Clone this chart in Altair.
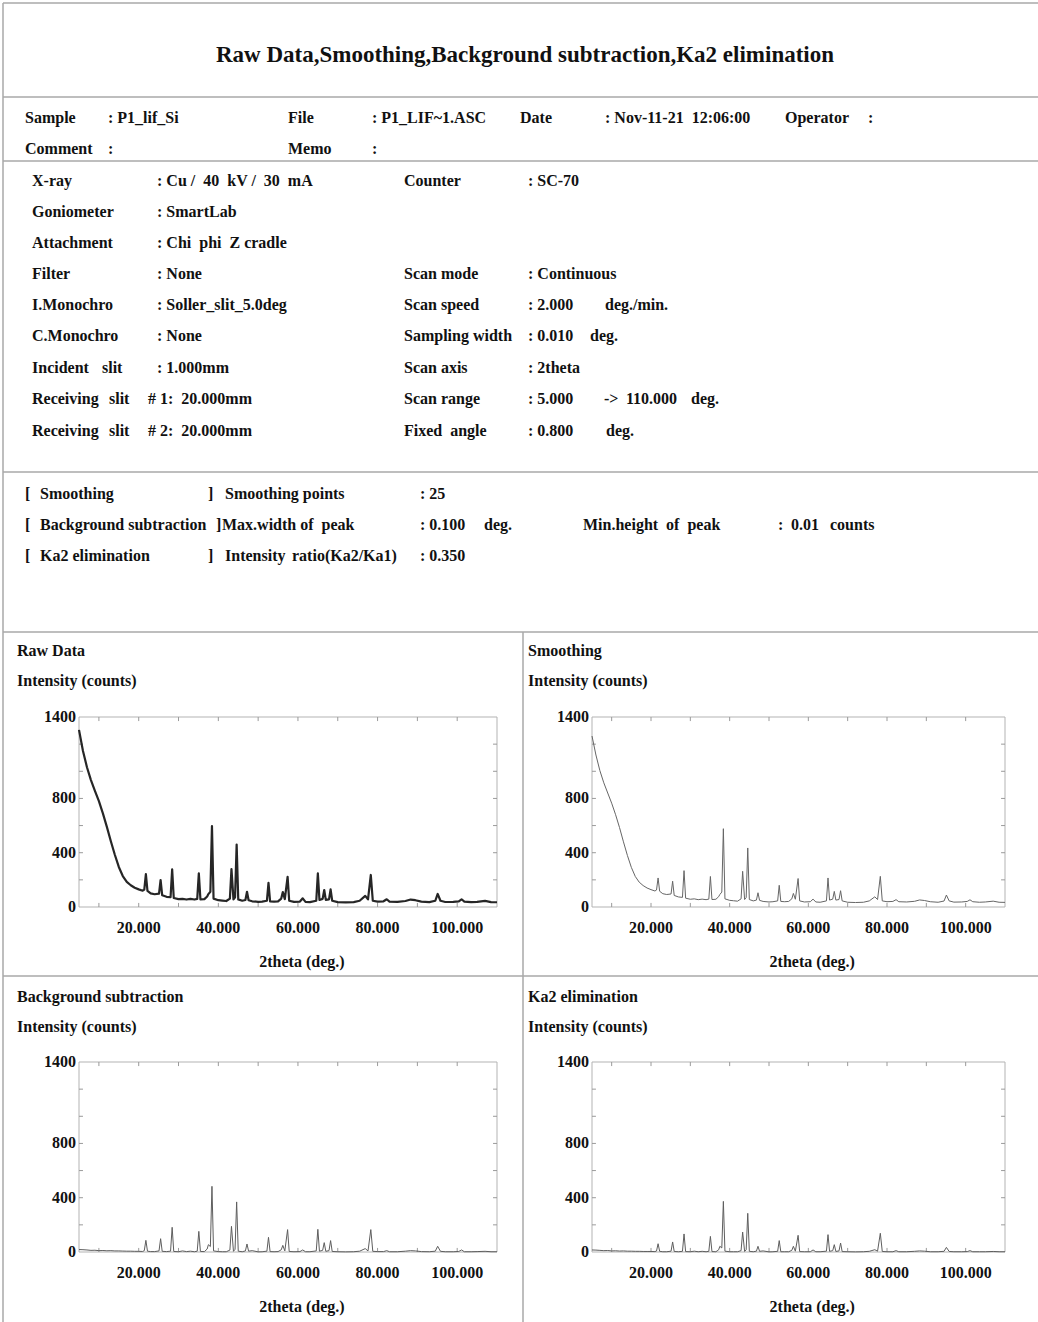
import altair as alt
import pandas as pd

W, H = 1038, 1322
FONT = "Liberation Serif"
INK = "#111111"
FRAME = "#a9a9a9"
BODY_SIZE = 16

# ---- measurement data (2theta in deg, intensity in counts) ----
TWO_THETA = [
    5.0, 6.0, 7.0, 8.0, 9.0, 10.0, 11.0, 12.0, 13.0, 14.0,
    15.0, 16.0, 17.0, 18.0, 19.0, 20.0, 21.0, 21.4, 21.8, 22.2,
    23.0, 24.0, 25.1, 25.5, 25.9, 27.0, 28.0, 28.4, 28.8, 30.0,
    31.0, 32.0, 33.0, 34.0, 34.7, 35.1, 35.5, 36.5, 37.2, 37.5,
    38.0, 38.4, 38.8, 40.0, 41.0, 42.0, 42.9, 43.3, 43.8, 44.2,
    44.6, 45.0, 46.0, 46.8, 47.2, 47.6, 48.5, 50.0, 51.0, 52.2,
    52.6, 53.0, 54.0, 55.0, 55.8, 56.2, 56.7, 57.4, 57.8, 59.0,
    60.5, 61.2, 61.9, 63.0, 64.6, 65.0, 65.4, 66.2, 66.6, 67.0,
    67.8, 68.2, 68.6, 70.0, 72.0, 74.0, 75.5, 76.9, 77.6, 78.3,
    78.8, 80.0, 81.5, 82.3, 83.0, 85.0, 87.0, 88.3, 89.5, 91.0,
    93.0, 94.5, 95.1, 95.8, 97.0, 99.0, 100.4, 101.1, 101.8, 103.5,
    105.0, 107.0, 108.5, 110.0,
]

RAW = [
    1305, 1150, 1030, 935, 855, 780, 690, 590, 485, 385,
    295, 228, 185, 160, 142, 130, 120, 128, 243, 118,
    100, 94, 98, 199, 86, 75, 72, 278, 66, 58,
    60, 55, 60, 55, 60, 248, 56, 58, 78, 95,
    112, 597, 62, 50, 47, 44, 62, 280, 56, 72,
    460, 56, 46, 52, 112, 50, 42, 38, 40, 46,
    178, 42, 40, 42, 62, 110, 58, 222, 46, 38,
    40, 64, 38, 36, 46, 248, 52, 60, 125, 52,
    56, 130, 46, 36, 34, 36, 46, 82, 56, 236,
    46, 40, 42, 57, 40, 38, 44, 55, 50, 40,
    36, 46, 96, 46, 37, 38, 42, 57, 40, 36,
    38, 45, 36, 35,
]

SMOOTHED = [
    1260, 1120, 1005, 915, 840, 765, 680, 585, 480, 380,
    292, 225, 183, 158, 140, 128, 118, 125, 214, 116,
    98, 92, 96, 190, 85, 74, 71, 268, 65, 57,
    60, 54, 58, 54, 58, 225, 55, 57, 76, 92,
    110, 577, 60, 49, 46, 43, 60, 263, 55, 70,
    435, 55, 45, 51, 105, 49, 41, 37, 39, 45,
    160, 41, 39, 41, 60, 100, 57, 210, 45, 37,
    39, 58, 37, 35, 45, 214, 51, 58, 115, 51,
    55, 120, 45, 35, 33, 35, 45, 75, 55, 226,
    45, 39, 41, 54, 39, 37, 42, 52, 48, 39,
    35, 44, 88, 45, 36, 37, 41, 53, 39, 35,
    37, 43, 35, 34,
]

BG_SUBTRACTED = [
    18, 17, 15, 12, 13, 10, 11, 9, 10, 8,
    8, 7, 6, 6, 5, 5, 4, 10, 86, 6,
    3, 3, 8, 98, 5, 3, 6, 182, 4, 2,
    8, 3, 6, 2, 6, 152, 4, 3, 22, 54,
    40, 484, 8, 3, 2, 2, 14, 189, 5, 20,
    369, 6, 2, 8, 59, 6, 10, 1, 2, 6,
    108, 3, 2, 3, 16, 49, 8, 165, 4, 2,
    3, 15, 2, 2, 8, 167, 6, 12, 69, 5,
    10, 84, 4, 2, 1, 2, 6, 25, 8, 165,
    5, 3, 3, 10, 2, 2, 6, 10, 8, 3,
    2, 6, 42, 5, 2, 2, 4, 15, 2, 2,
    3, 5, 2, 2,
]

KA2_ELIMINATED = [
    15, 14, 12, 10, 11, 8, 9, 7, 8, 6,
    6, 5, 5, 4, 4, 4, 3, 7, 61, 5,
    2, 2, 6, 74, 4, 2, 5, 133, 3, 2,
    6, 2, 5, 2, 5, 115, 3, 2, 16, 42,
    30, 373, 6, 2, 2, 2, 10, 147, 4, 16,
    285, 5, 2, 6, 42, 5, 8, 1, 2, 5,
    84, 2, 2, 2, 12, 42, 6, 123, 3, 2,
    2, 15, 2, 2, 6, 128, 5, 10, 54, 4,
    8, 66, 3, 2, 1, 2, 5, 17, 6, 138,
    4, 2, 2, 10, 2, 2, 5, 8, 6, 2,
    2, 5, 34, 4, 2, 2, 3, 10, 2, 2,
    2, 4, 2, 2,
]

X_DOMAIN = [5, 110]
Y_DOMAIN = [0, 1400]
X_TICKS = [10, 20, 30, 40, 50, 60, 70, 80, 90, 100]
X_LABELS = [20, 40, 60, 80, 100]
Y_TICKS = [200, 400, 600, 800, 1000, 1200]
Y_LABELS = [0, 400, 800, 1400]

PANEL_TITLES = ["Raw Data", "Smoothing", "Background subtraction", "Ka2 elimination"]
Y_TITLE = "Intensity (counts)"
X_TITLE = "2theta (deg.)"

# ---- report header text ----
HEADER_TITLE = "Raw Data,Smoothing,Background subtraction,Ka2 elimination"
NB = "\u00a0"

header_items = [
    # sample row
    ("Sample", 25, 118), (":  P1_lif_Si", 108, 118), ("File", 288, 118),
    (":  P1_LIF~1.ASC", 372, 118), ("Date", 520, 118),
    (":  Nov-11-21" + NB + NB + "12:06:00", 605, 118), ("Operator", 785, 118), (":", 868, 118),
    ("Comment", 25, 149), (":", 108, 149), ("Memo", 288, 149), (":", 372, 149),
    # measurement conditions, left column
    ("X-ray", 32, 181), (":  Cu /" + NB + NB + "40" + NB + NB + "kV /" + NB + NB + "30" + NB + NB + "mA", 157, 181),
    ("Goniometer", 32, 212), (":  SmartLab", 157, 212),
    ("Attachment", 32, 243), (":  Chi" + NB + NB + "phi" + NB + NB + "Z cradle", 157, 243),
    ("Filter", 32, 274), (":  None", 157, 274),
    ("I.Monochro", 32, 305), (":  Soller_slit_5.0deg", 157, 305),
    ("C.Monochro", 32, 336), (":  None", 157, 336),
    ("Incident", 32, 368), ("slit", 102, 368), (":  1.000mm", 157, 368),
    ("Receiving", 32, 399), ("slit", 109, 399), ("# 1:" + NB + NB + "20.000mm", 148, 399),
    ("Receiving", 32, 431), ("slit", 109, 431), ("# 2:" + NB + NB + "20.000mm", 148, 431),
    # measurement conditions, right column
    ("Counter", 404, 181), (":  SC-70", 528, 181),
    ("Scan mode", 404, 274), (":  Continuous", 528, 274),
    ("Scan speed", 404, 305), (":  2.000", 528, 305), ("deg./min.", 605, 305),
    ("Sampling width", 404, 336), (":  0.010", 528, 336), ("deg.", 590, 336),
    ("Scan axis", 404, 368), (":  2theta", 528, 368),
    ("Scan range", 404, 399), (":  5.000", 528, 399), ("->", 604, 399),
    ("110.000", 626, 399), ("deg.", 691, 399),
    ("Fixed" + NB + NB + "angle", 404, 431), (":  0.800", 528, 431), ("deg.", 606, 431),
    # data processing
    ("[", 25, 494), ("Smoothing", 40, 494), ("]", 208, 494), ("Smoothing points", 225, 494),
    (":  25", 420, 494),
    ("[", 25, 525), ("Background subtraction", 40, 525), ("]", 216, 525),
    ("Max.width of" + NB + NB + "peak", 222, 525), (":  0.100", 420, 525), ("deg.", 484, 525),
    ("Min.height" + NB + NB + "of" + NB + NB + "peak", 583, 525), (":", 778, 525),
    ("0.01", 791, 525), ("counts", 830, 525),
    ("[", 25, 556), ("Ka2 elimination", 40, 556), ("]", 208, 556), ("Intensity", 225, 556),
    ("ratio(Ka2/Ka1)", 292, 556), (":  0.350", 420, 556),
    # panel captions
    (PANEL_TITLES[0], 17, 651), (Y_TITLE, 17, 681),
    (PANEL_TITLES[1], 528, 651), (Y_TITLE, 528, 681),
    (PANEL_TITLES[2], 17, 997), (Y_TITLE, 17, 1027),
    (PANEL_TITLES[3], 528, 997), (Y_TITLE, 528, 1027),
]

# separating lines of the report form
form_lines = [
    (3, W, 3, 3), (3, 3, 3, H),
    (3, W, 97, 97), (3, W, 161, 161), (3, W, 472, 472), (3, W, 632, 632),
    (3, W, 976, 976), (523, 523, 632, H),
]

# plot areas in page pixels: x0, x1, y_top, y_bottom
PANEL_BOXES = [
    (79, 497, 717, 907),
    (592, 1005, 717, 907),
    (79, 497, 1062, 1252),
    (592, 1005, 1062, 1252),
]
PANEL_SERIES = [RAW, SMOOTHED, BG_SUBTRACTED, KA2_ELIMINATED]
PANEL_STROKE = [("#262626", 2.2), ("#666666", 1.0), ("#5e5e5e", 1.0), ("#5e5e5e", 1.0)]

page_x = alt.Scale(domain=[0, W], range=[0, W], nice=False, zero=False)
page_y = alt.Scale(domain=[0, H], range=[0, H], nice=False, zero=False)

rules_df = pd.DataFrame(form_lines, columns=["x", "x2", "y", "y2"])
form = alt.Chart(rules_df).mark_rule(color=FRAME, strokeWidth=1.5).encode(
    x=alt.X("x:Q", scale=page_x, axis=None),
    x2="x2:Q",
    y=alt.Y("y:Q", scale=page_y, axis=None),
    y2="y2:Q",
)

text_df = pd.DataFrame(header_items, columns=["text", "x", "y"])
texts = alt.Chart(text_df).mark_text(
    align="left", baseline="middle", font=FONT, fontWeight="bold", fontSize=BODY_SIZE, color=INK
).encode(
    x=alt.X("x:Q", scale=page_x, axis=None),
    y=alt.Y("y:Q", scale=page_y, axis=None),
    text="text:N",
)

title = alt.Chart(pd.DataFrame({"text": [HEADER_TITLE], "x": [525], "y": [55]})).mark_text(
    align="center", baseline="middle", font=FONT, fontWeight="bold", fontSize=23, color=INK
).encode(
    x=alt.X("x:Q", scale=page_x, axis=None),
    y=alt.Y("y:Q", scale=page_y, axis=None),
    text="text:N",
)

TICK_X = 1.0    # tick length along 2theta (deg)
TICK_Y = 30.0   # tick length along intensity (counts)


def panel(values, box, stroke):
    x0, x1, ytop, ybot = box
    xs = alt.Scale(domain=X_DOMAIN, range=[x0, x1], nice=False, zero=False)
    ys = alt.Scale(domain=Y_DOMAIN, range=[ybot, ytop], nice=False, zero=False)
    color, width = stroke

    series = pd.DataFrame({"tt": TWO_THETA, "cps": values})
    line = alt.Chart(series).mark_line(color=color, strokeWidth=width, strokeJoin="round").encode(
        x=alt.X("tt:Q", scale=xs, axis=None),
        y=alt.Y("cps:Q", scale=ys, axis=None),
    )

    frame_df = pd.DataFrame({"a": [X_DOMAIN[0]], "b": [X_DOMAIN[1]], "c": [Y_DOMAIN[0]], "d": [Y_DOMAIN[1]]})
    frame = alt.Chart(frame_df).mark_rect(fill="white", fillOpacity=0, stroke="#b3b3b3", strokeWidth=1).encode(
        x=alt.X("a:Q", scale=xs, axis=None), x2="b:Q",
        y=alt.Y("c:Q", scale=ys, axis=None), y2="d:Q",
    )

    tick_rows = []
    for t in X_TICKS:
        tick_rows.append((t, t, Y_DOMAIN[1], Y_DOMAIN[1] - TICK_Y))
        tick_rows.append((t, t, Y_DOMAIN[0], Y_DOMAIN[0] + TICK_Y))
    for v in Y_TICKS:
        tick_rows.append((X_DOMAIN[0], X_DOMAIN[0] + TICK_X, v, v))
        tick_rows.append((X_DOMAIN[1], X_DOMAIN[1] - TICK_X, v, v))
    ticks = alt.Chart(pd.DataFrame(tick_rows, columns=["a", "b", "c", "d"])).mark_rule(
        color="#9a9a9a", strokeWidth=1
    ).encode(
        x=alt.X("a:Q", scale=xs, axis=None), x2="b:Q",
        y=alt.Y("c:Q", scale=ys, axis=None), y2="d:Q",
    )

    lbl_style = dict(font=FONT, fontWeight="bold", fontSize=BODY_SIZE, color=INK)
    xlab = alt.Chart(pd.DataFrame({"v": X_LABELS, "base": [Y_DOMAIN[0]] * len(X_LABELS)})).mark_text(
        align="center", baseline="middle", dy=21, **lbl_style
    ).encode(
        x=alt.X("v:Q", scale=xs, axis=None),
        y=alt.Y("base:Q", scale=ys, axis=None),
        text=alt.Text("v:Q", format=".3f"),
    )
    ylab = alt.Chart(pd.DataFrame({"v": Y_LABELS, "base": [X_DOMAIN[0]] * len(Y_LABELS)})).mark_text(
        align="right", baseline="middle", dx=-3, **lbl_style
    ).encode(
        x=alt.X("base:Q", scale=xs, axis=None),
        y=alt.Y("v:Q", scale=ys, axis=None),
        text=alt.Text("v:Q", format="d"),
    )
    xtitle = alt.Chart(pd.DataFrame({"t": [X_TITLE], "x": [61], "y": [Y_DOMAIN[0]]})).mark_text(
        align="center", baseline="middle", dy=55, **lbl_style
    ).encode(
        x=alt.X("x:Q", scale=xs, axis=None),
        y=alt.Y("y:Q", scale=ys, axis=None),
        text="t:N",
    )
    return alt.layer(frame, ticks, line, xlab, ylab, xtitle)


panels = [panel(v, b, s) for v, b, s in zip(PANEL_SERIES, PANEL_BOXES, PANEL_STROKE)]

chart = (
    alt.layer(form, texts, title, *panels)
    .resolve_scale(x="independent", y="independent")
    .properties(width=W, height=H, padding=0, autosize="none", background="white")
    .configure_view(strokeOpacity=0)
)

chart.save("out.html", embed_options={"renderer": "svg", "actions": False})
